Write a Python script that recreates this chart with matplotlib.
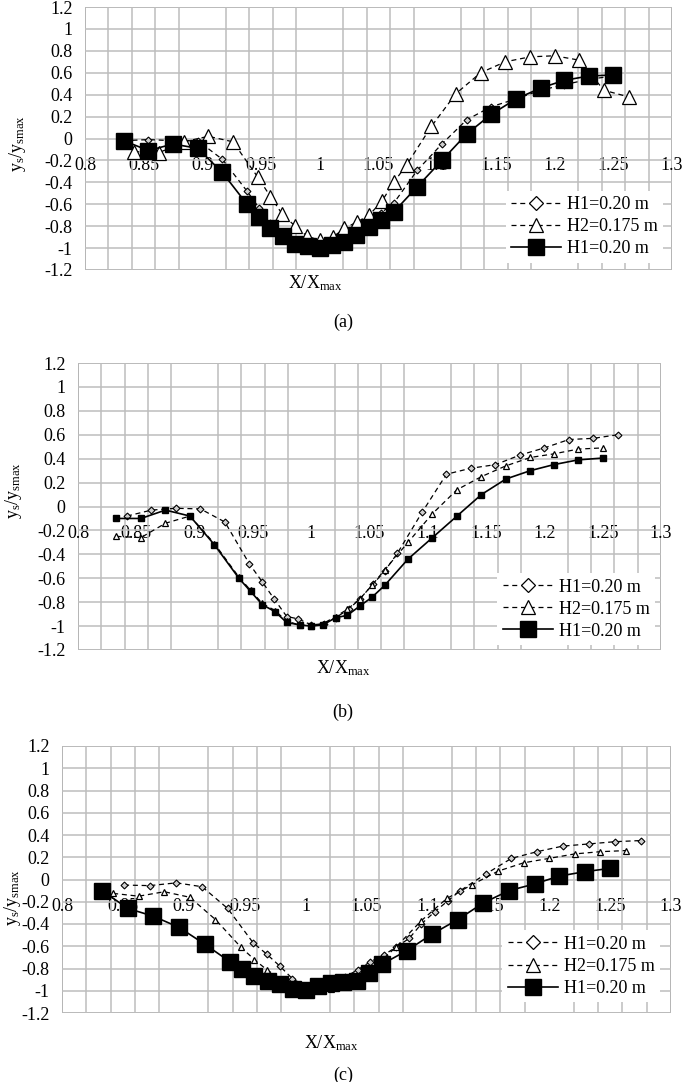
import numpy as np
import matplotlib
matplotlib.use("Agg")
import matplotlib.pyplot as plt
from matplotlib.lines import Line2D
from matplotlib.patches import Rectangle
from matplotlib.ticker import FixedLocator, FuncFormatter

plt.rcParams['font.family'] = ['Liberation Serif', 'DejaVu Serif']
plt.rcParams['mathtext.fontset'] = 'custom'
plt.rcParams['mathtext.rm'] = 'Liberation Serif'
plt.rcParams['mathtext.it'] = 'Liberation Serif:italic'
plt.rcParams['font.size'] = 13

labels = ["H1=0.20 m", "H2=0.175 m", "H1=0.20 m"]

# x positions (X/Xmax) of the measuring points
x_sq = [0.833, 0.854, 0.875, 0.896, 0.917, 0.938, 0.948, 0.958, 0.969, 0.979, 0.990, 1.000, 1.010, 1.021,
        1.031, 1.042, 1.052, 1.063, 1.083, 1.104, 1.125, 1.146, 1.167, 1.188, 1.208, 1.229, 1.250]
x_tr = [0.842, 0.863, 0.884, 0.905, 0.926, 0.947, 0.958, 0.968, 0.979, 0.989, 1.000, 1.011, 1.021, 1.032,
        1.042, 1.053, 1.063, 1.074, 1.095, 1.116, 1.137, 1.158, 1.179, 1.200, 1.221, 1.242, 1.263]
x_di_c = [0.851, 0.872, 0.894, 0.915, 0.936, 0.957, 0.968, 0.979, 0.989, 1.000, 1.011, 1.021, 1.032, 1.043,
          1.053, 1.064, 1.074, 1.085, 1.095, 1.106, 1.117, 1.127, 1.148, 1.169, 1.190, 1.211, 1.233, 1.254, 1.275]

# (a)
ya_di = [-0.02, -0.01, -0.02, -0.02, -0.19, -0.48, -0.63, -0.77, -0.87, -0.93, -0.97, -0.99, -0.96, -0.91,
         -0.84, -0.76, -0.68, -0.59, -0.29, -0.05, 0.17, 0.29, 0.36, 0.44, 0.49, 0.54, 0.57]
ya_tr = [-0.12, -0.13, -0.03, 0.02, -0.03, -0.35, -0.53, -0.69, -0.80, -0.89, -0.93, -0.90, -0.82, -0.76,
         -0.70, -0.57, -0.40, -0.24, 0.11, 0.41, 0.60, 0.70, 0.745, 0.755, 0.715, 0.44, 0.38]
ya_sq = [-0.02, -0.11, -0.05, -0.09, -0.31, -0.60, -0.72, -0.82, -0.89, -0.96, -0.98, -1.00, -0.97, -0.94,
         -0.88, -0.81, -0.74, -0.67, -0.44, -0.20, 0.04, 0.22, 0.36, 0.46, 0.53, 0.57, 0.58]

# (b)
yb_di = [-0.08, -0.03, -0.015, -0.02, -0.13, -0.48, -0.63, -0.77, -0.92, -0.94, -0.99, -0.98, -0.93, -0.86,
         -0.77, -0.65, -0.54, -0.39, -0.05, 0.27, 0.32, 0.35, 0.43, 0.49, 0.56, 0.57, 0.60]
yb_tr = [-0.25, -0.26, -0.14, -0.08, -0.31, -0.59, -0.70, -0.81, -0.87, -0.96, -0.99, -1.00, -0.98, -0.92,
         -0.86, -0.77, -0.66, -0.53, -0.30, -0.06, 0.14, 0.25, 0.34, 0.41, 0.44, 0.48, 0.49]
yb_sq = [-0.10, -0.10, -0.03, -0.08, -0.32, -0.60, -0.71, -0.82, -0.88, -0.97, -0.99, -1.00, -0.99, -0.93,
         -0.91, -0.83, -0.76, -0.66, -0.44, -0.26, -0.08, 0.10, 0.23, 0.30, 0.35, 0.39, 0.405]

# (c)
yc_di = [-0.05, -0.055, -0.03, -0.065, -0.26, -0.57, -0.67, -0.78, -0.89, -0.96, -0.97, -0.94, -0.88, -0.81,
         -0.74, -0.68, -0.61, -0.53, -0.40, -0.29, -0.19, -0.10, 0.05, 0.19, 0.25, 0.30, 0.32, 0.34, 0.35]
yc_tr = [-0.125, -0.15, -0.11, -0.16, -0.36, -0.61, -0.72, -0.81, -0.89, -0.95, -0.99, -0.99, -0.985, -0.94,
         -0.88, -0.80, -0.72, -0.61, -0.37, -0.17, -0.045, 0.075, 0.15, 0.19, 0.23, 0.25, 0.26]
yc_sq = [-0.10, -0.26, -0.33, -0.43, -0.58, -0.74, -0.80, -0.87, -0.91, -0.94, -0.985, -0.995, -0.96, -0.93,
         -0.92, -0.91, -0.84, -0.76, -0.64, -0.49, -0.36, -0.21, -0.10, -0.04, 0.03, 0.07, 0.10]

W, H = 685, 1082
fig = plt.figure(figsize=(W / 100, H / 100), dpi=100)

DASH = (0, (4, 3))
GRID = '#bdbdbd'


def px_axes(l, t, r, b):
    return fig.add_axes([l / W, 1 - b / H, (r - l) / W, (b - t) / H])


def fmt(v, pos):
    v = round(v, 3) + 0.0
    return f"{v:g}"


def panel(ax, series, leg_xy, xlab, ylab):
    for x, y, kw in series:
        ax.plot(x, y, color='k', **kw)

    ax.set_xlim(0.8, 1.3)
    ax.set_ylim(-1.2, 1.2)
    ax.xaxis.set_major_locator(FixedLocator(np.round(np.arange(0.8, 1.3001, 0.05), 2)))
    ax.xaxis.set_minor_locator(FixedLocator(np.round(np.arange(0.8, 1.3001, 0.02), 2)))
    ax.yaxis.set_major_locator(FixedLocator(np.round(np.arange(-1.2, 1.2001, 0.2), 1)))
    ax.xaxis.set_major_formatter(FuncFormatter(fmt))
    ax.yaxis.set_major_formatter(FuncFormatter(fmt))
    ax.grid(axis='x', which='minor', color=GRID, lw=1.1)
    ax.grid(axis='y', which='major', color=GRID, lw=1.1)
    ax.set_axisbelow(True)

    # x axis crosses at y = 0, labels hang under it
    ax.spines['bottom'].set_position(('data', 0))
    for s in ax.spines.values():
        s.set_visible(False)
    ax.add_patch(Rectangle((0, 0), 1, 1, transform=ax.transAxes, fill=False,
                           edgecolor='#a8a8a8', lw=1.2, zorder=0.5))
    ax.tick_params(axis='x', which='both', length=0, pad=13)
    ax.tick_params(axis='y', which='both', length=0, pad=9)

    ax.set_xlabel(r'X/X$_\mathrm{max}$')
    ax.xaxis.set_label_coords(*xlab)
    ax.xaxis.label.set_va('center')
    ax.set_ylabel(r'y$_\mathrm{s}$/y$_\mathrm{smax}$')
    ax.yaxis.set_label_coords(*ylab)
    ax.yaxis.label.set_va('center')

    handles = [
        Line2D([], [], color='k', ls=DASH, lw=0.9, marker='D', ms=7, mfc='white', mec='k', mew=0.9),
        Line2D([], [], color='k', ls=DASH, lw=0.9, marker='^', ms=10, mfc='white', mec='k', mew=0.9),
        Line2D([], [], color='k', ls='-', lw=1.2, marker='s', ms=11, mfc='k', mec='k'),
    ]
    ax.legend(handles, labels, loc='lower right', bbox_to_anchor=leg_xy, frameon=True, framealpha=1,
              facecolor='white', edgecolor='none', fancybox=False, handlelength=2.8, handletextpad=0.3,
              labelspacing=0.28, borderpad=0.3, borderaxespad=0)


def di(ms):
    return dict(ls=DASH, lw=0.9, marker='D', ms=ms, mfc='#d0d0d0', mec='k', mew=0.8)


def tr(ms):
    return dict(ls=DASH, lw=0.9, marker='^', ms=ms, mfc='white', mec='k', mew=0.9)


def sq(ms):
    return dict(ls='-', lw=1.2, marker='s', ms=ms, mfc='k', mec='k')


# (a)
ax = px_axes(85, 7, 672, 270)
panel(ax, [(x_sq, ya_di, di(3.5)), (x_tr, ya_tr, tr(10)), (x_sq, ya_sq, sq(11))],
      (0.985, 0.027), (0.392, -0.05), (-0.115, 0.483))
fig.text(343 / W, 1 - 322 / H, '(a)', ha='center', va='center')

# (b)
ax = px_axes(78, 363, 661, 650)
panel(ax, [(x_tr, yb_di, di(3.5)), (x_sq, yb_tr, tr(5)), (x_sq, yb_sq, sq(5))],
      (0.99, 0.017), (0.456, -0.063), (-0.11, 0.557))
fig.text(343 / W, 1 - 712 / H, '(b)', ha='center', va='center')

# (c)
ax = px_axes(62, 746, 671, 1013)
panel(ax, [(x_di_c, yc_di, di(3.5)), (x_tr, yc_tr, tr(5)), (x_sq, yc_sq, sq(11))],
      (0.982, 0.04), (0.442, -0.112), (-0.082, 0.434))
fig.text(343 / W, 1 - 1075 / H, '(c)', ha='center', va='center')

fig.savefig('out.png', dpi=100)
